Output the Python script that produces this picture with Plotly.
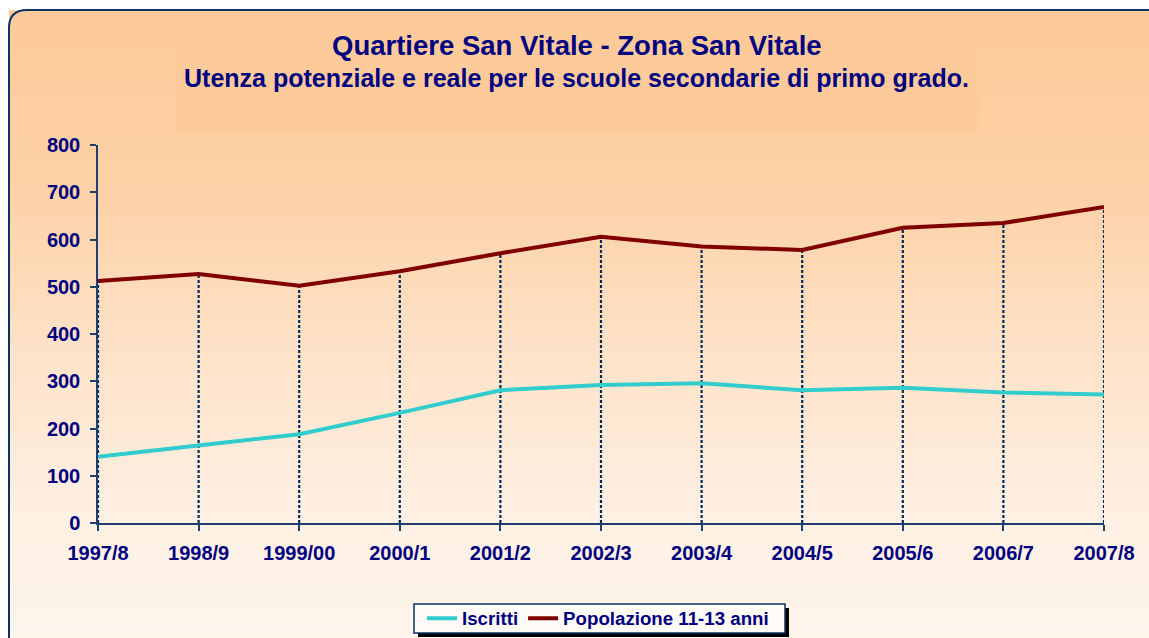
import plotly.graph_objects as go

categories = ["1997/8", "1998/9", "1999/00", "2000/1", "2001/2", "2002/3",
              "2003/4", "2004/5", "2005/6", "2006/7", "2007/8"]
iscritti = [140, 164, 188, 233, 281, 292, 296, 281, 286, 276, 272]
popolazione = [512, 527, 502, 533, 571, 606, 585, 578, 625, 635, 669]
y_ticks = [0, 100, 200, 300, 400, 500, 600, 700, 800]

# figure placed at the page origin (body margin removed below)
W, H = 1149, 638
PL, PR, PT, PB = 98, 1104, 145, 523          # plot area in page pixels
L, T = PL, PT
pw, ph = PR - PL, PB - PT
R, B = W - L - pw, H - T - ph

def px(x):
    return (x - PL) / pw

def py(y):
    return (PB - y) / ph

NAVY = "#000080"
AXIS = "#1F3F6F"
FONT = "Liberation Sans, Arial, sans-serif"

fig = go.Figure()

# drop lines (Excel style) from the upper series to the axis
dx, dy = [], []
for c, v in zip(categories, popolazione):
    dx += [c, c, None]
    dy += [0, v, None]
fig.add_trace(go.Scatter(x=dx, y=dy, mode="lines", showlegend=False,
                         hoverinfo="skip",
                         line=dict(color="#002A5C", width=2.2, dash="3px,2px")))

fig.add_trace(go.Scatter(x=categories, y=iscritti, mode="lines",
                         name="<b>Iscritti</b>",
                         line=dict(color="#33CCCC", width=4)))
fig.add_trace(go.Scatter(x=categories, y=popolazione, mode="lines",
                         name="<b>Popolazione 11-13 anni</b>",
                         line=dict(color="#800000", width=4)))

shapes = []
# gradient background bands
stops = [(10, (253, 202, 152)), (200, (253, 210, 168)), (350, (254, 226, 200)),
         (500, (254, 239, 225)), (645, (254, 245, 236))]

def col_at(y):
    for (y0, c0), (y1, c1) in zip(stops[:-1], stops[1:]):
        if y0 <= y <= y1:
            t = (y - y0) / (y1 - y0)
            return "rgb(%d,%d,%d)" % tuple(round(a + (b - a) * t) for a, b in zip(c0, c1))
    return "rgb(%d,%d,%d)" % stops[-1][1]

band = 5
ytop = 10
while ytop < 645:
    ybot = min(ytop + band, 645)
    shapes.append(dict(type="rect", xref="paper", yref="paper",
                       x0=px(9), x1=px(1165), y0=py(ybot + 1), y1=py(ytop),
                       line=dict(width=0), fillcolor=col_at((ytop + ybot) / 2),
                       layer="below"))
    ytop = ybot

# title block
shapes.append(dict(type="rect", xref="paper", yref="paper",
                   x0=px(176), x1=px(979), y0=py(132), y1=py(36),
                   line=dict(width=0), fillcolor="rgb(253,203,153)", layer="below"))

# frame border with rounded top-left corner
r = 18
x0, y0, x1, y1 = 9, 10, 1170, 641
path = (f"M {px(x0)},{py(y1)} L {px(x0)},{py(y0 + r)} "
        f"Q {px(x0)},{py(y0)} {px(x0 + r)},{py(y0)} L {px(x1)},{py(y0)}")
shapes.append(dict(type="path", xref="paper", yref="paper", path=path,
                   line=dict(color="#0A3264", width=2), layer="below"))

# legend box with shadow
shapes.append(dict(type="rect", xref="paper", yref="paper",
                   x0=px(418), x1=px(789), y0=py(637), y1=py(608),
                   line=dict(width=0), fillcolor="black", layer="below"))
shapes.append(dict(type="rect", xref="paper", yref="paper",
                   x0=px(414), x1=px(785), y0=py(633), y1=py(604),
                   line=dict(color="#0A3264", width=1.5), fillcolor="#FFFBF6",
                   layer="below"))

fig.update_layout(
    width=W, height=H,
    margin=dict(l=L, r=R, t=T, b=B, autoexpand=False),
    paper_bgcolor="white", plot_bgcolor="rgba(0,0,0,0)",
    font=dict(family=FONT, color=NAVY, size=20),
    shapes=shapes,
    showlegend=True,
    legend=dict(orientation="h", x=px(598), y=py(618.5), xanchor="center",
                yanchor="middle", bgcolor="rgba(0,0,0,0)", borderwidth=0,
                font=dict(size=18.7, color=NAVY, family=FONT),
                itemwidth=30, tracegroupgap=0),
    annotations=[
        dict(text="<b>Quartiere San Vitale - Zona San Vitale</b>", xref="paper",
             yref="paper", x=px(577), y=py(45.5), xanchor="center", yanchor="middle",
             showarrow=False, font=dict(size=27.5, color=NAVY, family=FONT)),
        dict(text="<b>Utenza potenziale e reale per le scuole secondarie di primo grado.</b>",
             xref="paper", yref="paper", x=px(576), y=py(78), xanchor="center",
             yanchor="middle", showarrow=False,
             font=dict(size=25, color=NAVY, family=FONT)),
    ],
)

fig.update_xaxes(type="category", categoryorder="array", categoryarray=categories,
                 range=[0, len(categories) - 1], showgrid=False, zeroline=False,
                 showline=True, linecolor=AXIS, linewidth=1.5,
                 ticks="outside", ticklen=6, tickcolor=AXIS, tickwidth=1.5,
                 tickfont=dict(size=20, color=NAVY, family=FONT), ticklabelstandoff=5,
                 tickvals=categories, ticktext=[f"<b>{c}</b>" for c in categories])
fig.update_yaxes(range=[0, 800], tickvals=y_ticks,
                 ticktext=[f"<b>{v}</b>" for v in y_ticks],
                 showgrid=False, zeroline=False, showline=True, linecolor=AXIS,
                 linewidth=1.5, ticks="outside", ticklen=6, tickcolor=AXIS,
                 tickwidth=1.5, tickfont=dict(size=20, color=NAVY, family=FONT),
                 ticklabelstandoff=6)

fig.write_html("out.html",
               config={"displayModeBar": False},
               post_script="document.body.style.margin='0';"
                           "document.documentElement.style.overflow='hidden';"
                           "document.body.style.overflow='hidden';")
